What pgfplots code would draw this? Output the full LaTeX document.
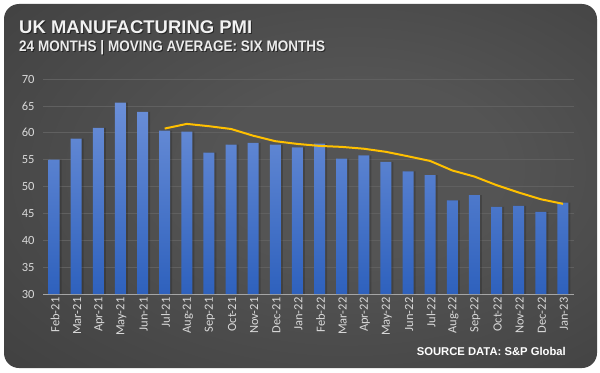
\documentclass[border=0pt]{standalone}
\usepackage{pgfplots}
\pgfplotsset{compat=1.18}
\usepackage{fontspec}
\setmainfont{Carlito}
\newfontfamily\titlefont{Liberation Sans}
\definecolor{barTop}{HTML}{6B8FD8}
\definecolor{barBot}{HTML}{2E61BD}
\definecolor{lineC}{HTML}{FFC000}
\definecolor{tickC}{HTML}{D9D9D9}
\definecolor{gridC}{HTML}{606060}
\definecolor{axisC}{HTML}{A6A6A6}
\definecolor{cardIn}{HTML}{545454}
\definecolor{cardOut}{HTML}{292929}
\pgfdeclareradialshading{card}{\pgfpoint{6bp}{3bp}}{color(0bp)=(cardIn); color(12bp)=(cardIn); color(72bp)=(cardOut)}
\begin{document}
\begin{tikzpicture}[x=1bp,y=1bp]
\fill[white] (0,0) rectangle (600,372);
\shade[shading=card, rounded corners=15bp] (4,4) rectangle (597,368);
\node[anchor=base west, inner sep=0, text=black, opacity=0.5] at (20,337.7) {\resizebox{233bp}{12.8bp}{\titlefont\bfseries UK MANUFACTURING PMI}};
\node[anchor=base west, inner sep=0, text=white!90!gray] at (19,338.7) {\resizebox{233bp}{12.8bp}{\titlefont\bfseries UK MANUFACTURING PMI}};
\node[anchor=base west, inner sep=0, text=black, opacity=0.5] at (20,319.3) {\resizebox{306bp}{11bp}{\titlefont\bfseries 24 MONTHS | MOVING AVERAGE: SIX MONTHS}};
\node[anchor=base west, inner sep=0, text=white!85!gray] at (19,320.3) {\resizebox{306bp}{11bp}{\titlefont\bfseries 24 MONTHS | MOVING AVERAGE: SIX MONTHS}};
\node[anchor=base east, inner sep=0, text=white] at (566,16.3) {\resizebox{149bp}{8.2bp}{\titlefont\bfseries SOURCE DATA: S\&P Global}};
\begin{axis}[
  at={(43bp,78bp)}, anchor=south west,
  scale only axis, width=531bp, height=215bp,
  y coord trafo/.code={\pgfmathparse{#1-30}},
  y coord inv trafo/.code={\pgfmathparse{#1+30}},
  xmin=-0.5, xmax=23.5, ymin=30, ymax=70,
  ytick={30,35,40,45,50,55,60,65,70},
  yticklabels={30,35,40,45,50,55,60,65,70},
  xtick={0,...,23},
  xticklabels={Feb-21,Mar-21,Apr-21,May-21,Jun-21,Jul-21,Aug-21,Sep-21,Oct-21,Nov-21,Dec-21,Jan-22,Feb-22,Mar-22,Apr-22,May-22,Jun-22,Jul-22,Aug-22,Sep-22,Oct-22,Nov-22,Dec-22,Jan-23},
  x tick label style={rotate=90, anchor=east, font=\fontsize{12.5bp}{14bp}\selectfont, text=tickC, yshift=-1bp},
  y tick label style={font=\fontsize{12.5bp}{14bp}\selectfont, text=tickC, xshift=-5bp},
  /pgf/number format/assume math mode=true,
  axis lines*=left,
  y axis line style={draw=none},
  x axis line style={draw=axisC, line width=1bp},
  major tick length=0pt,
  ymajorgrids, grid style={draw=gridC, line width=0.7bp},
  clip=true,
]
\addplot[ybar, bar width=11bp, bar shift=2bp, draw=none, fill=black, fill opacity=0.18] coordinates {
(0,55.0) (1,58.9) (2,60.9) (3,65.6) (4,63.9) (5,60.4) (6,60.2) (7,56.3) (8,57.8) (9,58.1) (10,57.8) (11,57.3)
(12,58.0) (13,55.2) (14,55.8) (15,54.6) (16,52.8) (17,52.1) (18,47.4) (19,48.4) (20,46.2) (21,46.4) (22,45.3) (23,47.0)};
\addplot[ybar, bar width=11bp, bar shift=0bp, draw=none, top color=barTop, bottom color=barBot] coordinates {
(0,55.0) (1,58.9) (2,60.9) (3,65.6) (4,63.9) (5,60.4) (6,60.2) (7,56.3) (8,57.8) (9,58.1) (10,57.8) (11,57.3)
(12,58.0) (13,55.2) (14,55.8) (15,54.6) (16,52.8) (17,52.1) (18,47.4) (19,48.4) (20,46.2) (21,46.4) (22,45.3) (23,47.0)};
\addplot[lineC, line width=2bp, mark=none] coordinates {
(5,60.78) (6,61.65) (7,61.22) (8,60.70) (9,59.45) (10,58.43) (11,57.92) (12,57.55) (13,57.37) (14,57.03)
(15,56.45) (16,55.62) (17,54.75) (18,52.98) (19,51.85) (20,50.25) (21,48.88) (22,47.63) (23,46.78)};
\end{axis}
\end{tikzpicture}
\end{document}
